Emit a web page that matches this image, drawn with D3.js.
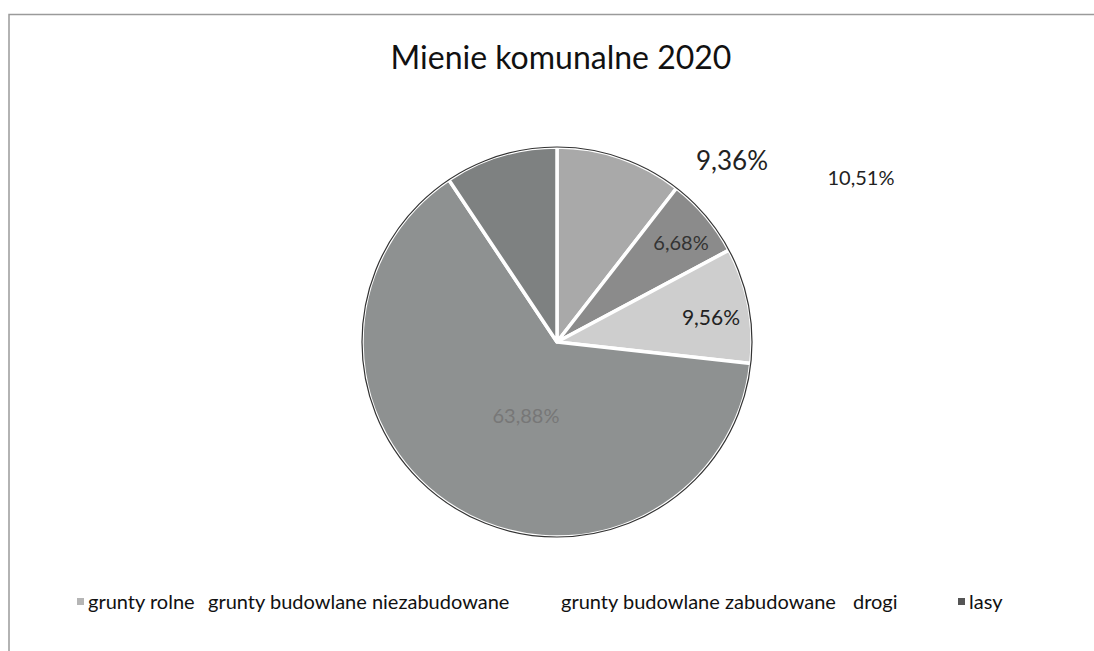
<html>
<head>
    <meta charset="utf-8">
    <title>Mienie komunalne 2020</title>
    <style>
        body {
            margin: 0;
            background-color: #fff;
        }
        .title {
            font: 32px Lato, "Open Sans", sans-serif;
            fill: #111;
        }
        .legend text {
            font: 20px Lato, "Open Sans", sans-serif;
            fill: #111;
        }
    </style>
</head>
<body>
    <div id="container"></div>
    <script src="https://d3js.org/d3.v7.min.js"></script>
    <script>
        // data
        let categories = ['grunty rolne', 'grunty budowlane niezabudowane', 'grunty budowlane zabudowane', 'drogi', 'lasy'];
        let values = [10.51, 6.68, 9.56, 63.88, 9.36];
        let labels = ['10,51%', '6,68%', '9,56%', '63,88%', '9,36%'];

        // styles / layout
        let colors = ['#a9a9a9', '#8b8b8b', '#cecece', '#8e9191', '#7e8181'];
        let markerColors = ['#b5b5b5', '#ffffff', '#ffffff', '#ffffff', '#555555'];
        let labelOffsets = [[304, -164], [124, -99], [154, -24], [-31, 74], [175, -181]]; // relative to pie centre
        let labelSizes = [20, 20, 21, 20, 26];
        let labelColors = ['#222', '#333', '#222', '#777', '#222'];
        let legendX = [77, 197, 550, 842, 958];

        let width = 1094,
            height = 651,
            cx = 557, cy = 342, radius = 195;

        let svg = d3.select('#container')
            .append('svg')
            .attr('width', width)
            .attr('height', height);

        // chart frame (only top and left visible on the scan)
        svg.append('path')
            .attr('d', 'M9,' + height + 'V14.5H' + width)
            .attr('fill', 'none')
            .attr('stroke', '#9a9a9a')
            .attr('stroke-width', 1.5);

        svg.append('text')
            .attr('class', 'title')
            .attr('x', cx + 4)
            .attr('y', 69)
            .attr('text-anchor', 'middle')
            .text('Mienie komunalne 2020');

        let pie = d3.pie().sort(null).value(function (d) { return d; });
        let arc = d3.arc().innerRadius(0).outerRadius(radius);
        let arcs = pie(values);

        let g = svg.append('g').attr('transform', 'translate(' + cx + ',' + cy + ')');

        g.selectAll('.slice')
            .data(arcs)
            .enter().append('path')
            .attr('class', 'slice')
            .attr('d', arc)
            .attr('fill', function (d, i) { return colors[i]; })
            .attr('stroke', '#fff')
            .attr('stroke-width', 3.5)
            .attr('stroke-linejoin', 'round');

        // dark outer rim seen on the scan
        g.append('circle')
            .attr('r', radius)
            .attr('fill', 'none')
            .attr('stroke', '#333')
            .attr('stroke-width', 1.2);

        g.selectAll('.lbl')
            .data(arcs)
            .enter().append('text')
            .attr('class', 'lbl')
            .attr('x', function (d, i) { return labelOffsets[i][0]; })
            .attr('y', function (d, i) { return labelOffsets[i][1]; })
            .attr('dy', '0.35em')
            .attr('text-anchor', 'middle')
            .style('font-family', 'Lato, "Open Sans", sans-serif')
            .style('font-size', function (d, i) { return labelSizes[i] + 'px'; })
            .style('fill', function (d, i) { return labelColors[i]; })
            .text(function (d, i) { return labels[i]; });

        // legend
        let legend = svg.append('g').attr('class', 'legend');
        let item = legend.selectAll('g')
            .data(categories)
            .enter().append('g')
            .attr('transform', function (d, i) { return 'translate(' + legendX[i] + ',602)'; });

        item.append('rect')
            .attr('x', 0)
            .attr('y', -4)
            .attr('width', 7)
            .attr('height', 7)
            .attr('fill', function (d, i) { return markerColors[i]; });

        item.append('text')
            .attr('x', 11)
            .attr('y', 0)
            .attr('dy', '0.35em')
            .text(function (d) { return d; });
    </script>
</body>
</html>
